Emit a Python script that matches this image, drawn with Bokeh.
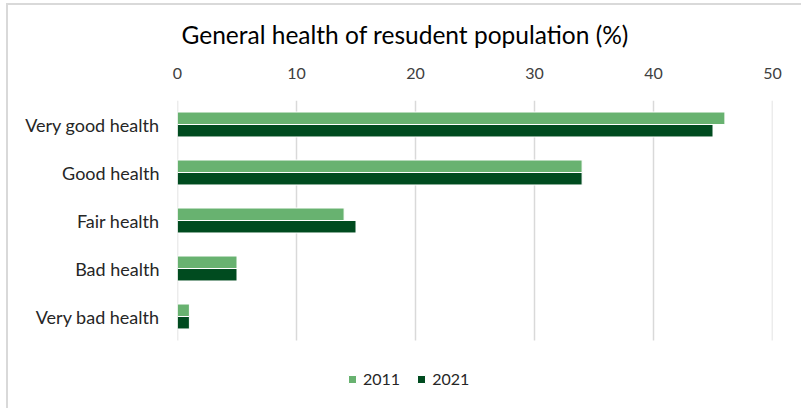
from bokeh.plotting import figure
from bokeh.models import Range1d, Legend, LegendItem, FixedTicker, ColumnDataSource
from bokeh.transform import dodge
from bokeh.embed import file_html
from bokeh.resources import INLINE

categories = ["Very good health", "Good health", "Fair health", "Bad health", "Very bad health"]
series_names = ["2011", "2021"]
values_2011 = [46, 34, 14, 5, 1]
values_2021 = [45, 34, 15, 5, 1]
x_ticks = [0, 10, 20, 30, 40, 50]
title_text = "General health of resudent population (%)"

FONT = "Lato"
LIGHT = "#68B270"
DARK = "#004B1F"
GRID = "#D9D9D9"

W, H = 801, 408
FRAME_L, FRAME_R, FRAME_T = 177, 772, 100
ROW_PX = 48

n = len(categories)
pos = list(range(n))
src = ColumnDataSource(dict(pos=pos, v2011=values_2011, v2021=values_2021))

y_top = -0.5
y_bottom = y_top + (H - FRAME_T) / ROW_PX

p = figure(width=W, height=H, output_backend="svg", toolbar_location=None,
           y_range=Range1d(y_bottom, y_top), x_range=Range1d(0, 50),
           x_axis_location="above",
           min_border_left=FRAME_L, min_border_right=W - FRAME_R,
           min_border_top=FRAME_T, min_border_bottom=0)

p.title.text = title_text
p.title.align = "left"
p.title.offset = 4
p.title.text_font = FONT
p.title.text_font_size = "24.5px"
p.title.text_font_style = "normal"
p.title.text_color = "#000000"
p.title.standoff = 31

p.outline_line_color = None
p.background_fill_color = "white"
p.border_fill_alpha = 0
p.styles = {
    "background-color": "white",
    "background-image": "linear-gradient(#D9D9D9,#D9D9D9), linear-gradient(#D9D9D9,#D9D9D9)",
    "background-size": "2px 100%, 100% 2px",
    "background-position": "6px 3px, 6px 3px",
    "background-repeat": "no-repeat",
}

p.ygrid.grid_line_color = None
p.xgrid.grid_line_color = None

# vertical gridlines spanning the category rows
p.segment(x0=x_ticks, x1=x_ticks, y0=[y_top] * len(x_ticks), y1=[n - 0.5] * len(x_ticks),
          line_color=GRID, line_width=1.5)

r1 = p.hbar(y=dodge("pos", -0.13), right="v2011", left=0, height=0.26,
            source=src, fill_color=LIGHT, line_color="white", line_width=1)
r2 = p.hbar(y=dodge("pos", 0.13), right="v2021", left=0, height=0.26,
            source=src, fill_color=DARK, line_color="white", line_width=1)

xa = p.xaxis[0]
xa.ticker = FixedTicker(ticks=x_ticks)
xa.axis_line_color = None
xa.major_tick_line_color = None
xa.minor_tick_line_color = None
xa.major_tick_out = 0
xa.major_tick_in = 0
xa.major_label_standoff = 22
xa.major_label_text_font = FONT
xa.major_label_text_font_size = "16px"
xa.major_label_text_color = "#404040"

ya = p.yaxis[0]
ya.ticker = FixedTicker(ticks=pos)
ya.major_label_overrides = {i: c for i, c in zip(pos, categories)}
ya.axis_line_color = None
ya.major_tick_line_color = None
ya.minor_tick_line_color = None
ya.major_label_standoff = 12
ya.major_label_text_font = FONT
ya.major_label_text_font_size = "18px"
ya.major_label_text_color = "#262626"

legend = Legend(items=[LegendItem(label=series_names[0], renderers=[r1]),
                       LegendItem(label=series_names[1], renderers=[r2])],
                orientation="horizontal", location=(170, 20),
                glyph_width=10, glyph_height=10, padding=0, margin=0, spacing=16,
                label_text_font=FONT, label_text_font_size="16px", label_text_color="#262626",
                border_line_color=None, background_fill_alpha=0, label_standoff=6)
p.add_layout(legend, "center")

open("out.html", "w").write(file_html(p, INLINE))
